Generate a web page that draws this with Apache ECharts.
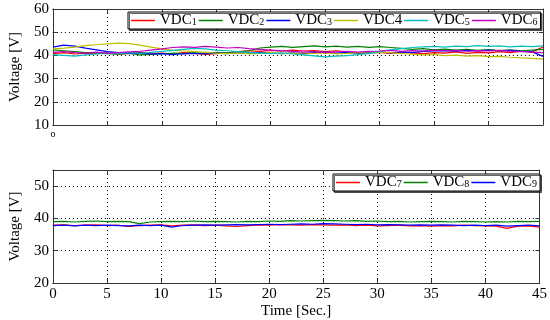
<!DOCTYPE html>
<html><head><meta charset="utf-8">
<script src="https://cdn.jsdelivr.net/npm/echarts@6/dist/echarts.min.js"></script>
<style>html,body{margin:0;padding:0;background:#fff}#c{width:550px;height:320px}</style>
</head><body><div id="c"></div>
<script>
const time = [0,1,2,3,4,5,6,7,8,9,10,11,12,13,14,15,16,17,18,19,20,21,22,23,24,25,26,27,28,29,30,31,32,33,34,35,36,37,38,39,40,41,42,43,44,45];
const xTicks = [0,5,10,15,20,25,30,35,40,45];
const topNames = ['VDC1','VDC2','VDC3','VDC4','VDC5','VDC6'];
const botNames = ['VDC7','VDC8','VDC9'];
const vdc1 = [40.8,41.2,40.6,41.0,40.7,41.1,40.5,40.9,41.3,40.8,41.0,40.6,41.2,40.9,40.4,40.8,41.1,41.6,42.0,41.7,42.2,41.8,42.3,41.9,42.1,41.6,42.0,41.5,41.2,41.0,41.3,40.9,41.4,41.1,40.8,41.2,41.0,41.5,40.9,41.3,41.1,41.6,41.2,41.8,41.5,43.6];
const vdc2 = [42.4,42.0,41.6,41.2,41.0,40.8,40.5,40.9,40.2,40.4,40.6,41.0,40.8,41.2,40.9,41.3,41.1,41.5,42.0,43.2,43.6,43.9,43.5,43.8,44.1,43.7,44.0,43.6,43.9,43.5,43.8,43.4,43.0,42.6,42.9,42.4,42.7,42.3,42.6,42.2,42.5,42.1,42.4,42.0,42.3,42.6];
const vdc3 = [43.6,44.4,44.0,43.1,42.4,41.6,41.2,40.9,41.0,40.6,40.8,40.3,40.7,40.9,40.6,41.0,40.8,41.2,40.9,41.3,41.0,40.7,41.1,40.8,41.2,41.4,41.0,41.3,40.9,41.2,41.4,41.1,41.5,41.2,41.7,41.9,42.1,41.8,42.2,41.9,42.3,42.0,42.2,41.8,41.5,39.6];
const vdc4 = [42.8,43.1,43.6,44.2,44.6,45.0,45.3,45.1,44.4,43.6,42.8,42.2,41.9,41.6,41.3,41.0,40.8,41.1,40.7,40.9,41.2,40.8,41.0,40.6,40.9,41.1,40.7,40.9,41.2,41.0,41.4,41.2,40.8,40.5,40.2,40.4,39.9,40.1,39.7,39.9,39.5,39.6,39.2,38.9,38.7,38.4];
const vdc5 = [40.3,40.0,39.7,40.2,40.6,41.0,40.8,41.2,40.9,41.3,41.7,42.2,42.6,43.0,42.8,42.3,42.0,41.6,41.2,41.0,40.8,41.1,40.6,40.2,39.8,39.4,39.7,39.9,40.3,40.8,41.6,42.4,42.9,43.4,43.7,43.9,43.6,44.0,43.8,44.2,43.9,44.1,43.7,44.0,43.8,44.1];
const vdc6 = [41.3,41.6,41.2,41.0,41.4,40.9,41.2,41.5,41.8,42.3,42.8,43.4,43.7,43.5,43.9,43.6,43.2,43.4,42.9,42.6,42.3,42.0,41.7,41.4,41.6,41.2,41.5,41.8,41.4,41.7,41.9,42.2,41.8,42.1,41.9,42.3,42.0,42.2,41.8,42.1,41.9,42.2,41.8,41.6,41.4,41.2];
const vdc7 = [37.9,38.0,37.8,37.9,38.0,37.8,37.9,37.5,37.8,37.9,38.0,37.7,37.9,38.0,37.8,37.9,37.7,37.5,37.8,38.0,37.9,38.1,38.0,37.9,38.1,38.0,37.9,38.0,37.8,37.9,37.7,37.8,37.9,37.7,37.8,37.6,37.8,37.7,37.9,37.8,37.7,37.6,36.9,37.6,37.7,37.3];
const vdc8 = [39.0,39.1,38.9,39.1,39.2,39.0,39.1,39.0,38.4,38.9,39.0,39.1,39.0,39.2,39.0,39.1,39.0,38.9,39.1,39.0,39.2,39.1,39.3,39.2,39.3,39.4,39.3,39.2,39.3,39.1,39.2,39.0,39.1,38.9,39.0,39.1,39.0,38.9,39.1,39.0,38.9,39.0,38.9,39.1,39.0,39.1];
const vdc9 = [37.8,37.9,37.7,37.9,37.8,37.9,37.8,37.7,37.9,37.8,37.9,37.3,37.8,37.9,38.0,37.9,38.0,38.1,38.0,38.1,38.2,38.1,38.2,38.3,38.2,38.4,38.3,38.2,38.1,38.2,38.0,38.1,38.0,37.9,38.0,37.9,38.0,37.9,37.8,37.9,37.8,37.9,37.6,37.8,37.9,37.7];
const topValues = [vdc1, vdc2, vdc3, vdc4, vdc5, vdc6];
const botValues = [vdc7, vdc8, vdc9];
const topColors = ['#ff0000','#008000','#0000ff','#bfbf00','#00bfbf','#bf00bf'];
const botColors = ['#ff0000','#008000','#0000ff'];

const FONT = 'Liberation Serif';
const dotted = {show:true, lineStyle:{color:'#000', type:[1,3], width:1}};
const axLine = {show:true, onZero:false, lineStyle:{color:'#333', width:1}};
const tick = {show:true, inside:true, length:4, lineStyle:{color:'#333'}};

function xAxes(gridIndex, labelFn, withName){
  return [{
    type:'value', gridIndex, min:0, max:45, interval:5, position:'bottom',
    axisLine:axLine, axisTick:tick, splitLine:dotted,
    axisLabel:{show:true, color:'#000', fontFamily:FONT, fontSize:labelFn?10:15, margin:4, formatter:labelFn || (v=>String(v))},
    name: withName ? 'Time [Sec.]' : '', nameLocation:'middle', nameGap:21,
    nameTextStyle:{color:'#000', fontFamily:FONT, fontSize:15}
  },{
    type:'value', gridIndex, min:0, max:45, interval:5, position:'top',
    axisLine:axLine, axisTick:tick, splitLine:{show:false}, axisLabel:{show:false}
  }];
}
function yAxes(gridIndex, min, max, showMax){
  return [{
    type:'value', gridIndex, min, max, interval:10, position:'left',
    axisLine:axLine, axisTick:tick, splitLine:dotted,
    axisLabel:{color:'#000', fontFamily:FONT, fontSize:15, margin:4, showMaxLabel:showMax},
    name:'Voltage [V]', nameLocation:'middle', nameGap:26,
    nameTextStyle:{color:'#000', fontFamily:FONT, fontSize:15}
  },{
    type:'value', gridIndex, min, max, interval:10, position:'right',
    axisLine:axLine, axisTick:tick, splitLine:{show:false}, axisLabel:{show:false}
  }];
}
function fmtLegend(name){
  const d = name.slice(3);
  return d === '4' ? '{a|VDC4}' : '{a|VDC}{b|' + d + '}';
}
const legendRich = {a:{fontFamily:FONT, fontSize:15, color:'#000'}, b:{fontFamily:FONT, fontSize:10, color:'#000', padding:[4,0,0,0]}};

const series = [];
topNames.forEach((n,i)=>series.push({
  name:n, type:'line', xAxisIndex:0, yAxisIndex:0, symbol:'none',
  lineStyle:{width:1.2, color:topColors[i]}, itemStyle:{color:topColors[i]},
  data: time.map((t,j)=>[t, topValues[i][j]]), animation:false
}));
botNames.forEach((n,i)=>series.push({
  name:n, type:'line', xAxisIndex:2, yAxisIndex:2, symbol:'none',
  lineStyle:{width:1.2, color:botColors[i]}, itemStyle:{color:botColors[i]},
  data: time.map((t,j)=>[t, botValues[i][j]]), animation:false
}));

const legendBase = {orient:'horizontal', icon:'rect', itemWidth:24, itemHeight:1.5, itemGap:2,
  backgroundColor:'#fff', borderColor:'#000', borderWidth:1, padding:[1,3],
  formatter:fmtLegend, textStyle:{rich:legendRich},
  shadowColor:'rgba(0,0,0,0.6)', shadowOffsetX:1.5, shadowOffsetY:1.5, shadowBlur:0};

const chart = echarts.init(document.getElementById('c'), null, {renderer:'canvas'});
chart.setOption({
  animation:false,
  backgroundColor:'#fff',
  grid:[
    {left:42, top:9, width:501, height:116},
    {left:42, top:170, width:501, height:116}
  ],
  xAxis:[...xAxes(0, v=> v===0 ? 'o' : '', false), ...xAxes(1, null, true)],
  yAxis:[...yAxes(0, 10, 60, true), ...yAxes(1, 20, 55, false)],
  legend:[
    Object.assign({}, legendBase, {data:topNames, left:128, top:12, width:460}),
    Object.assign({}, legendBase, {data:botNames, left:333, top:174, width:260})
  ],
  series
});
</script></body></html>
